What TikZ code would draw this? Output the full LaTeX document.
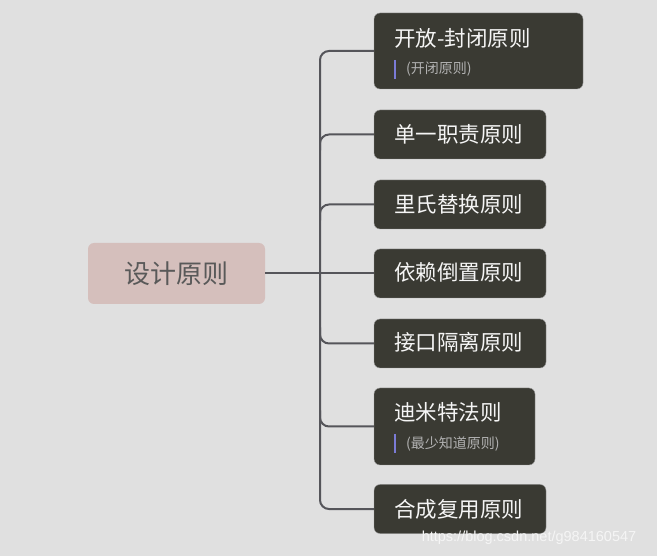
\documentclass[tikz,border=0pt]{standalone}
\usepackage{fontspec}
\setmainfont{Noto Sans CJK SC}
\newfontfamily\wmfont{Liberation Sans}
\usepackage{tikz}
\usetikzlibrary{positioning}
\definecolor{bgcolor}{HTML}{E0E0E0}
\definecolor{boxcolor}{HTML}{3A3A33}
\definecolor{rootcolor}{HTML}{D5BFBC}
\definecolor{linecolor}{HTML}{55555A}
\definecolor{barcolor}{HTML}{7B7BD6}

\begin{document}
\begin{tikzpicture}[x=1pt, y=-1pt,
    root/.style={fill=rootcolor, rounded corners=6pt, minimum width=177pt, minimum height=61pt,
                 text=black!65, font=\fontsize{26}{30}\selectfont},
    topic/.style={fill=boxcolor, draw=black!40, line width=0.4pt, rounded corners=6pt,
                  minimum width=172pt, minimum height=49pt, inner sep=0pt},
    ttl/.style={text=white!96!black, font=\fontsize{21.5}{25}\selectfont, inner sep=0pt, anchor=west},
    note/.style={text=black!30, font=\fontsize{14}{16}\selectfont, inner sep=0pt, anchor=west},
    bar/.style={barcolor, line width=2.5pt},
    ln/.style={linecolor, line width=2pt},
    wm/.style={text=white!96!black, font=\wmfont\fontsize{14.5}{17}\selectfont, inner sep=0pt}
  ]
    \useasboundingbox[fill=bgcolor] (0,0) rectangle (657,556);

    \node[root] (root) at (176.5,273.5) {设计原则};

    % the seven principles
    \node[topic, minimum width=209pt, minimum height=76pt] (b1) at (478.5,51) {};
    \node[ttl] (t1) at (394,38) {开放-封闭原则};
    \node[note] (n1) at (406,69) {(开闭原则)};
    \node[topic] (b2) at (460,134.5) {};
    \node[ttl] (t2) at (394,134) {单一职责原则};
    \node[topic] (b3) at (460,204.5) {};
    \node[ttl] (t3) at (394,204) {里氏替换原则};
    \node[topic] (b4) at (460,273.5) {};
    \node[ttl] (t4) at (394,272) {依赖倒置原则};
    \node[topic] (b5) at (460,343.5) {};
    \node[ttl] (t5) at (394,342) {接口隔离原则};
    \node[topic, minimum width=161pt, minimum height=77pt] (b6) at (454.5,426.5) {};
    \node[ttl] (t6) at (394,412) {迪米特法则};
    \node[note] (n6) at (406,444) {(最少知道原则)};
    \node[topic] (b7) at (460,509) {};
    \node[ttl] (t7) at (394,509) {合成复用原则};

    \draw[bar] (395,60) -- (395,79);
    \draw[bar] (395,434) -- (395,453);

    % connectors
    \coordinate (tr) at (320,273.5);
    \draw[ln, rounded corners=9pt] (b1.west) -| (tr) |- (b7.west);
    \draw[ln] (root.east) -- (b4.west);
    \foreach \b/\s in {b2/-1, b3/-1, b5/1, b6/1}
      \draw[ln, rounded corners=9pt] ([yshift=\s*16pt]tr |- \b.west) |- (\b.west);

    \node[wm] (wm) at (529,538) {https://blog.csdn.net/g984160547};
\end{tikzpicture}
\end{document}
